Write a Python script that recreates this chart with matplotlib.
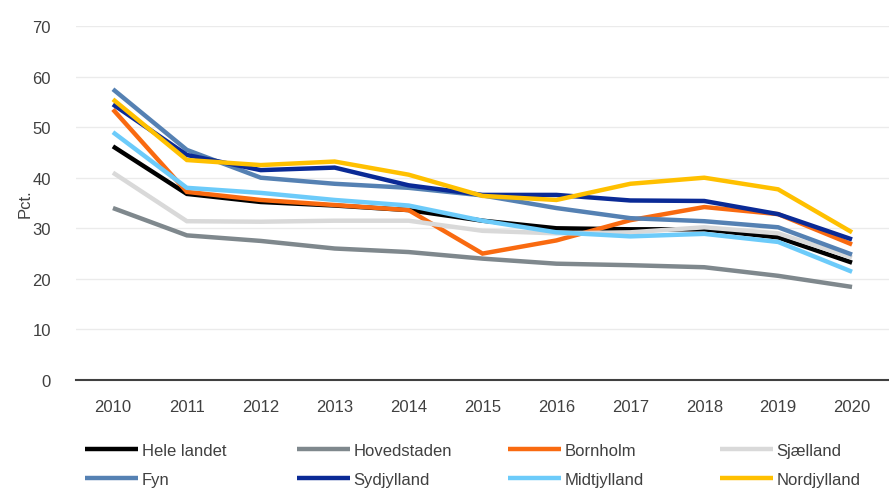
import matplotlib.pyplot as plt
import numpy as np

# data
years = [2010, 2011, 2012, 2013, 2014, 2015, 2016, 2017, 2018, 2019, 2020]
regions = ['Hele landet', 'Hovedstaden', 'Bornholm', 'Sjælland',
           'Fyn', 'Sydjylland', 'Midtjylland', 'Nordjylland']
hele_landet = [46.2, 36.8, 35.2, 34.5, 33.6, 31.5, 30.0, 29.8, 29.8, 28.2, 23.2]
hovedstaden = [34.0, 28.6, 27.5, 26.0, 25.3, 24.0, 23.0, 22.7, 22.3, 20.6, 18.4]
bornholm = [53.5, 37.2, 35.6, 34.6, 33.6, 25.0, 27.6, 31.6, 34.2, 32.8, 26.8]
sjaelland = [41.0, 31.4, 31.3, 31.5, 31.5, 29.5, 29.0, 29.2, 30.2, 29.0, 24.2]
fyn = [57.5, 45.5, 40.0, 38.8, 38.0, 36.5, 34.0, 32.0, 31.4, 30.2, 24.8]
sydjylland = [54.5, 44.5, 41.5, 42.0, 38.5, 36.6, 36.6, 35.5, 35.4, 32.8, 27.8]
midtjylland = [49.0, 38.0, 37.0, 35.6, 34.5, 31.5, 29.2, 28.4, 28.9, 27.3, 21.4]
nordjylland = [55.5, 43.5, 42.5, 43.2, 40.6, 36.4, 35.6, 38.8, 40.0, 37.7, 29.2]
series = [hele_landet, hovedstaden, bornholm, sjaelland,
          fyn, sydjylland, midtjylland, nordjylland]
colors = ['#000000', '#7F888D', '#F96A10', '#D9D9D9',
          '#5581B3', '#0A2A96', '#6CCBFA', '#FFC000']

plt.rcParams['font.family'] = ['Liberation Sans', 'DejaVu Sans']

fig = plt.figure(figsize=(8.89, 4.89), dpi=100, facecolor='white')
ax = fig.add_axes([76 / 889, 108 / 489, 813 / 889, 354 / 489])

x = np.arange(len(years))
lines = []
for vals, name, col in zip(series, regions, colors):
    ln, = ax.plot(x, vals, color=col, linewidth=3.2, label=name,
                  solid_capstyle='butt', solid_joinstyle='miter')
    lines.append(ln)

ax.set_xlim(-0.5, len(years) - 0.5)
ax.set_ylim(0, 70)
ax.set_yticks(range(0, 71, 10))
ax.set_xticks(x)
ax.set_xticklabels([str(y) for y in years])
ax.tick_params(axis='both', length=0, labelsize=12, colors='#404040')
ax.tick_params(axis='x', pad=14)
ax.tick_params(axis='y', pad=18)
ax.grid(axis='y', color='#EBEBEB', linewidth=1.0)
ax.set_axisbelow(True)
for side in ['top', 'right', 'left']:
    ax.spines[side].set_visible(False)
ax.spines['bottom'].set_color('#404040')
ax.spines['bottom'].set_linewidth(1.5)
ax.set_ylabel('Pct.', fontsize=12, color='#404040', labelpad=0)

# legend: four columns of two entries each
col_x = [85, 297, 508, 720]
for i, cx in enumerate(col_x):
    fig.legend(handles=[lines[i], lines[i + 4]], loc='center left',
               bbox_to_anchor=(cx / 889, 23 / 489), frameon=False,
               fontsize=12, handlelength=3.2, handletextpad=0.2,
               labelspacing=0.85, borderpad=0, borderaxespad=0,
               labelcolor='#404040')

fig.savefig('out.png', dpi=100, facecolor='white')
